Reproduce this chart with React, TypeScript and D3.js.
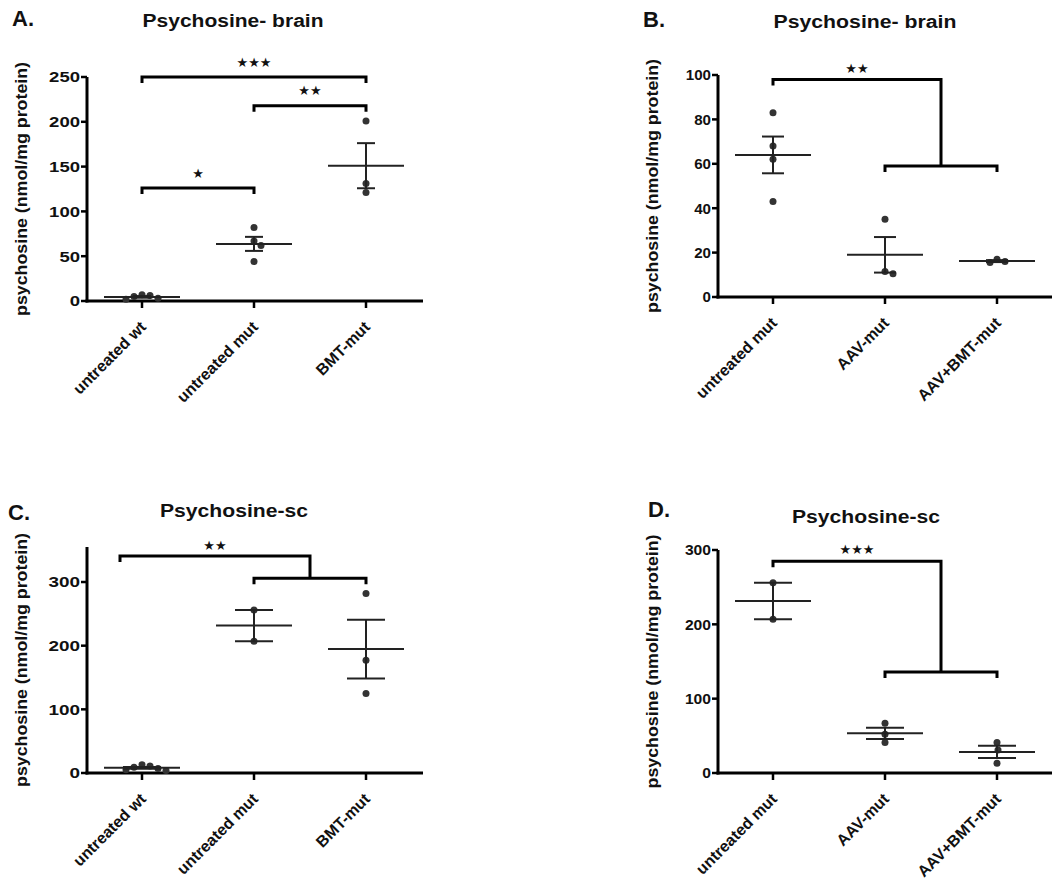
import React from "react";
import * as d3 from "d3";

// ---------- data ----------
const catsAC = ["untreated wt", "untreated mut", "BMT-mut"];
const catsBD = ["untreated mut", "AAV-mut", "AAV+BMT-mut"];

const brainA = [[2, 3, 5, 6, 7], [82, 67, 62, 44], [201, 131, 121]];
const brainB = [[83, 68, 62, 43], [35, 11.5, 10.5], [17, 16, 15.5]];
const scC = [[4, 5, 7, 9, 11, 13], [256, 207], [282, 177, 125]];
const scD = [[256, 207], [67, 52, 41], [41, 31, 13]];

const ticksA = [0, 50, 100, 150, 200, 250];
const ticksB = [0, 20, 40, 60, 80, 100];
const ticksC = [0, 100, 200, 300];
const ticksD = [0, 100, 200, 300];

const yLabel = "psychosine (nmol/mg protein)";

// significance brackets (values in data units)
const sigA = [
  { kind: "simple", a: 0, b: 2, v: 250, label: "***" },
  { kind: "simple", a: 1, b: 2, v: 218, label: "**" },
  { kind: "simple", a: 0, b: 1, v: 126, label: "*" },
];
const sigB = [{ kind: "group", a: 0, b1: 1, b2: 2, vTop: 98, vLow: 59, label: "**" }];
const sigC = [{ kind: "group", a: 0, b1: 1, b2: 2, vTop: 341, vLow: 306, label: "**", leftShift: -22 }];
const sigD = [{ kind: "group", a: 0, b1: 1, b2: 2, vTop: 285, vLow: 136, label: "***" }];

// ---------- layout ----------
const panels = [
  {
    letter: "A.", letterX: 12, letterY: 26,
    title: "Psychosine- brain", titleX: 233, titleY: 27, titleLen: 181,
    axisX: 87, axisY: 301, topPx: 77, yMax: 250, ticks: ticksA, tickCharW: 10.3,
    cats: catsAC, data: brainA, capHalf: 9, sig: sigA, starGap: 15,
  },
  {
    letter: "B.", letterX: 643, letterY: 27,
    title: "Psychosine- brain", titleX: 865, titleY: 28, titleLen: 183,
    axisX: 718, axisY: 297, topPx: 75, yMax: 100, ticks: ticksB, tickCharW: 8.4,
    cats: catsBD, data: brainB, capHalf: 11, sig: sigB, starGap: 11,
  },
  {
    letter: "C.", letterX: 8, letterY: 520,
    title: "Psychosine-sc", titleX: 234, titleY: 517, titleLen: 148,
    axisX: 87, axisY: 773, topPx: 547, yMax: 355, ticks: ticksC, tickCharW: 10.5,
    cats: catsAC, data: scC, capHalf: 19, sig: sigC, starGap: 10,
  },
  {
    letter: "D.", letterX: 648, letterY: 517,
    title: "Psychosine-sc", titleX: 866, titleY: 523, titleLen: 148,
    axisX: 718, axisY: 773, topPx: 550, yMax: 300, ticks: ticksD, tickCharW: 8.7,
    cats: catsBD, data: scD, capHalf: 19, sig: sigD, starGap: 12,
  },
];

const FONT = "'Liberation Sans', Arial, Helvetica, sans-serif";
const R = 3.5;

function dodge(ys: number[], cx: number) {
  const placed: { x: number; y: number }[] = [];
  const order = ys.map((y, i) => i).sort((a, b) => ys[a] - ys[b]);
  const out: number[] = new Array(ys.length);
  for (const i of order) {
    const y = ys[i];
    let chosen = cx;
    for (let k = 0; k < 200; k++) {
      const off = k === 0 ? 0 : (k % 2 === 1 ? 1 : -1) * Math.ceil(k / 2);
      const xx = cx + off;
      const ok = placed.every((p) => Math.hypot(p.x - xx, p.y - y) >= 2 * R + 0.5);
      if (ok) { chosen = xx; break; }
    }
    placed.push({ x: chosen, y });
    out[i] = chosen;
  }
  return out;
}

function Panel({ p }: { p: any }) {
  const x = d3.scalePoint<string>().domain(p.cats).range([p.axisX + 55, p.axisX + 279]);
  const y = d3.scaleLinear().domain([0, p.yMax]).range([p.axisY, p.topPx]);
  const xEnd = (x(p.cats[p.cats.length - 1]) as number) + 57;
  const midY = (p.axisY + p.topPx) / 2;
  const leg = 6;

  return (
    <g>
      <text x={p.letterX} y={p.letterY} fontFamily={FONT} fontWeight="bold" fontSize={22} fill="#111">{p.letter}</text>
      <text x={p.titleX} y={p.titleY} textAnchor="middle" fontFamily={FONT} fontWeight="bold" fontSize={18}
        textLength={p.titleLen} lengthAdjust="spacingAndGlyphs" fill="#111">{p.title}</text>
      <text transform={`translate(${p.axisX - 66},${midY}) rotate(-90)`} textAnchor="middle" dominantBaseline="central"
        fontFamily={FONT} fontWeight="bold" fontSize={17} textLength={254} lengthAdjust="spacingAndGlyphs" fill="#111">{yLabel}</text>

      {/* axes */}
      <line x1={p.axisX} x2={p.axisX} y1={y(p.yMax)} y2={p.axisY + 1.5} stroke="#000" strokeWidth={3} />
      <line x1={p.axisX - 1.5} x2={xEnd} y1={p.axisY} y2={p.axisY} stroke="#000" strokeWidth={3} />
      {p.ticks.map((t: number) => (
        <g key={"yt" + t}>
          <line x1={p.axisX - 6} x2={p.axisX} y1={y(t)} y2={y(t)} stroke="#000" strokeWidth={2.5} />
          <text x={p.axisX - 7} y={y(t)} dy="0.36em" textAnchor="end" fontFamily={FONT} fontWeight="bold"
            fontSize={15} textLength={String(t).length * p.tickCharW} lengthAdjust="spacingAndGlyphs"
            fill="#111">{t}</text>
        </g>
      ))}
      {p.cats.map((c: string) => (
        <g key={"xt" + c}>
          <line x1={x(c)} x2={x(c)} y1={p.axisY} y2={p.axisY + 7} stroke="#000" strokeWidth={2.5} />
          <text transform={`translate(${(x(c) as number) + 5},${p.axisY + 27}) rotate(-45)`} textAnchor="end"
            fontFamily={FONT} fontWeight="bold" fontSize={16} fill="#111">{c}</text>
        </g>
      ))}

      {/* data */}
      {p.data.map((vals: number[], i: number) => {
        const cx = x(p.cats[i]) as number;
        const m = d3.mean(vals) as number;
        const sd = d3.deviation(vals) as number;
        const sem = sd / Math.sqrt(vals.length);
        const ys = vals.map((v) => y(v));
        const xs = dodge(ys, cx);
        return (
          <g key={"d" + i}>
            {vals.map((v, j) => (
              <circle key={j} cx={xs[j]} cy={ys[j]} r={R} fill="#333" />
            ))}
            <line x1={cx - 38} x2={cx + 38} y1={y(m)} y2={y(m)} stroke="#222" strokeWidth={2} />
            <line x1={cx} x2={cx} y1={y(m + sem)} y2={y(m - sem)} stroke="#222" strokeWidth={2} />
            <line x1={cx - p.capHalf} x2={cx + p.capHalf} y1={y(m + sem)} y2={y(m + sem)} stroke="#222" strokeWidth={2} />
            <line x1={cx - p.capHalf} x2={cx + p.capHalf} y1={y(m - sem)} y2={y(m - sem)} stroke="#222" strokeWidth={2} />
          </g>
        );
      })}

      {/* significance */}
      {p.sig.map((s: any, k: number) => {
        if (s.kind === "simple") {
          const xa = x(p.cats[s.a]) as number;
          const xb = x(p.cats[s.b]) as number;
          const yy = y(s.v);
          return (
            <g key={"s" + k}>
              <path d={`M${xa},${yy + leg}L${xa},${yy}L${xb},${yy}L${xb},${yy + leg}`} fill="none" stroke="#000" strokeWidth={3} />
              <text x={(xa + xb) / 2} y={yy - p.starGap} textAnchor="middle" dominantBaseline="central"
                fontFamily="'DejaVu Sans', sans-serif" fontSize={13} fill="#111">{s.label.replace(/\*/g, "★")}</text>
            </g>
          );
        }
        const xa = (x(p.cats[s.a]) as number) + (s.leftShift || 0);
        const xb1 = x(p.cats[s.b1]) as number;
        const xb2 = x(p.cats[s.b2]) as number;
        const xm = (xb1 + xb2) / 2;
        const yt = y(s.vTop);
        const yl = y(s.vLow);
        return (
          <g key={"s" + k}>
            <path d={`M${xa},${yt + leg}L${xa},${yt}L${xm},${yt}L${xm},${yl}`} fill="none" stroke="#000" strokeWidth={3} />
            <path d={`M${xb1},${yl + leg}L${xb1},${yl}L${xb2},${yl}L${xb2},${yl + leg}`} fill="none" stroke="#000" strokeWidth={3} />
            <text x={(xa + xm) / 2} y={yt - p.starGap} textAnchor="middle" dominantBaseline="central"
              fontFamily="'DejaVu Sans', sans-serif" fontSize={13} fill="#111">{s.label.replace(/\*/g, "★")}</text>
          </g>
        );
      })}
    </g>
  );
}

export default function App() {
  return (
    <svg width={1052} height={881} style={{ position: "absolute", left: 0, top: 0, background: "#fff" }}>
      <rect width={1052} height={881} fill="#fff" />
      {panels.map((p, i) => (
        <Panel key={i} p={p} />
      ))}
    </svg>
  );
}
